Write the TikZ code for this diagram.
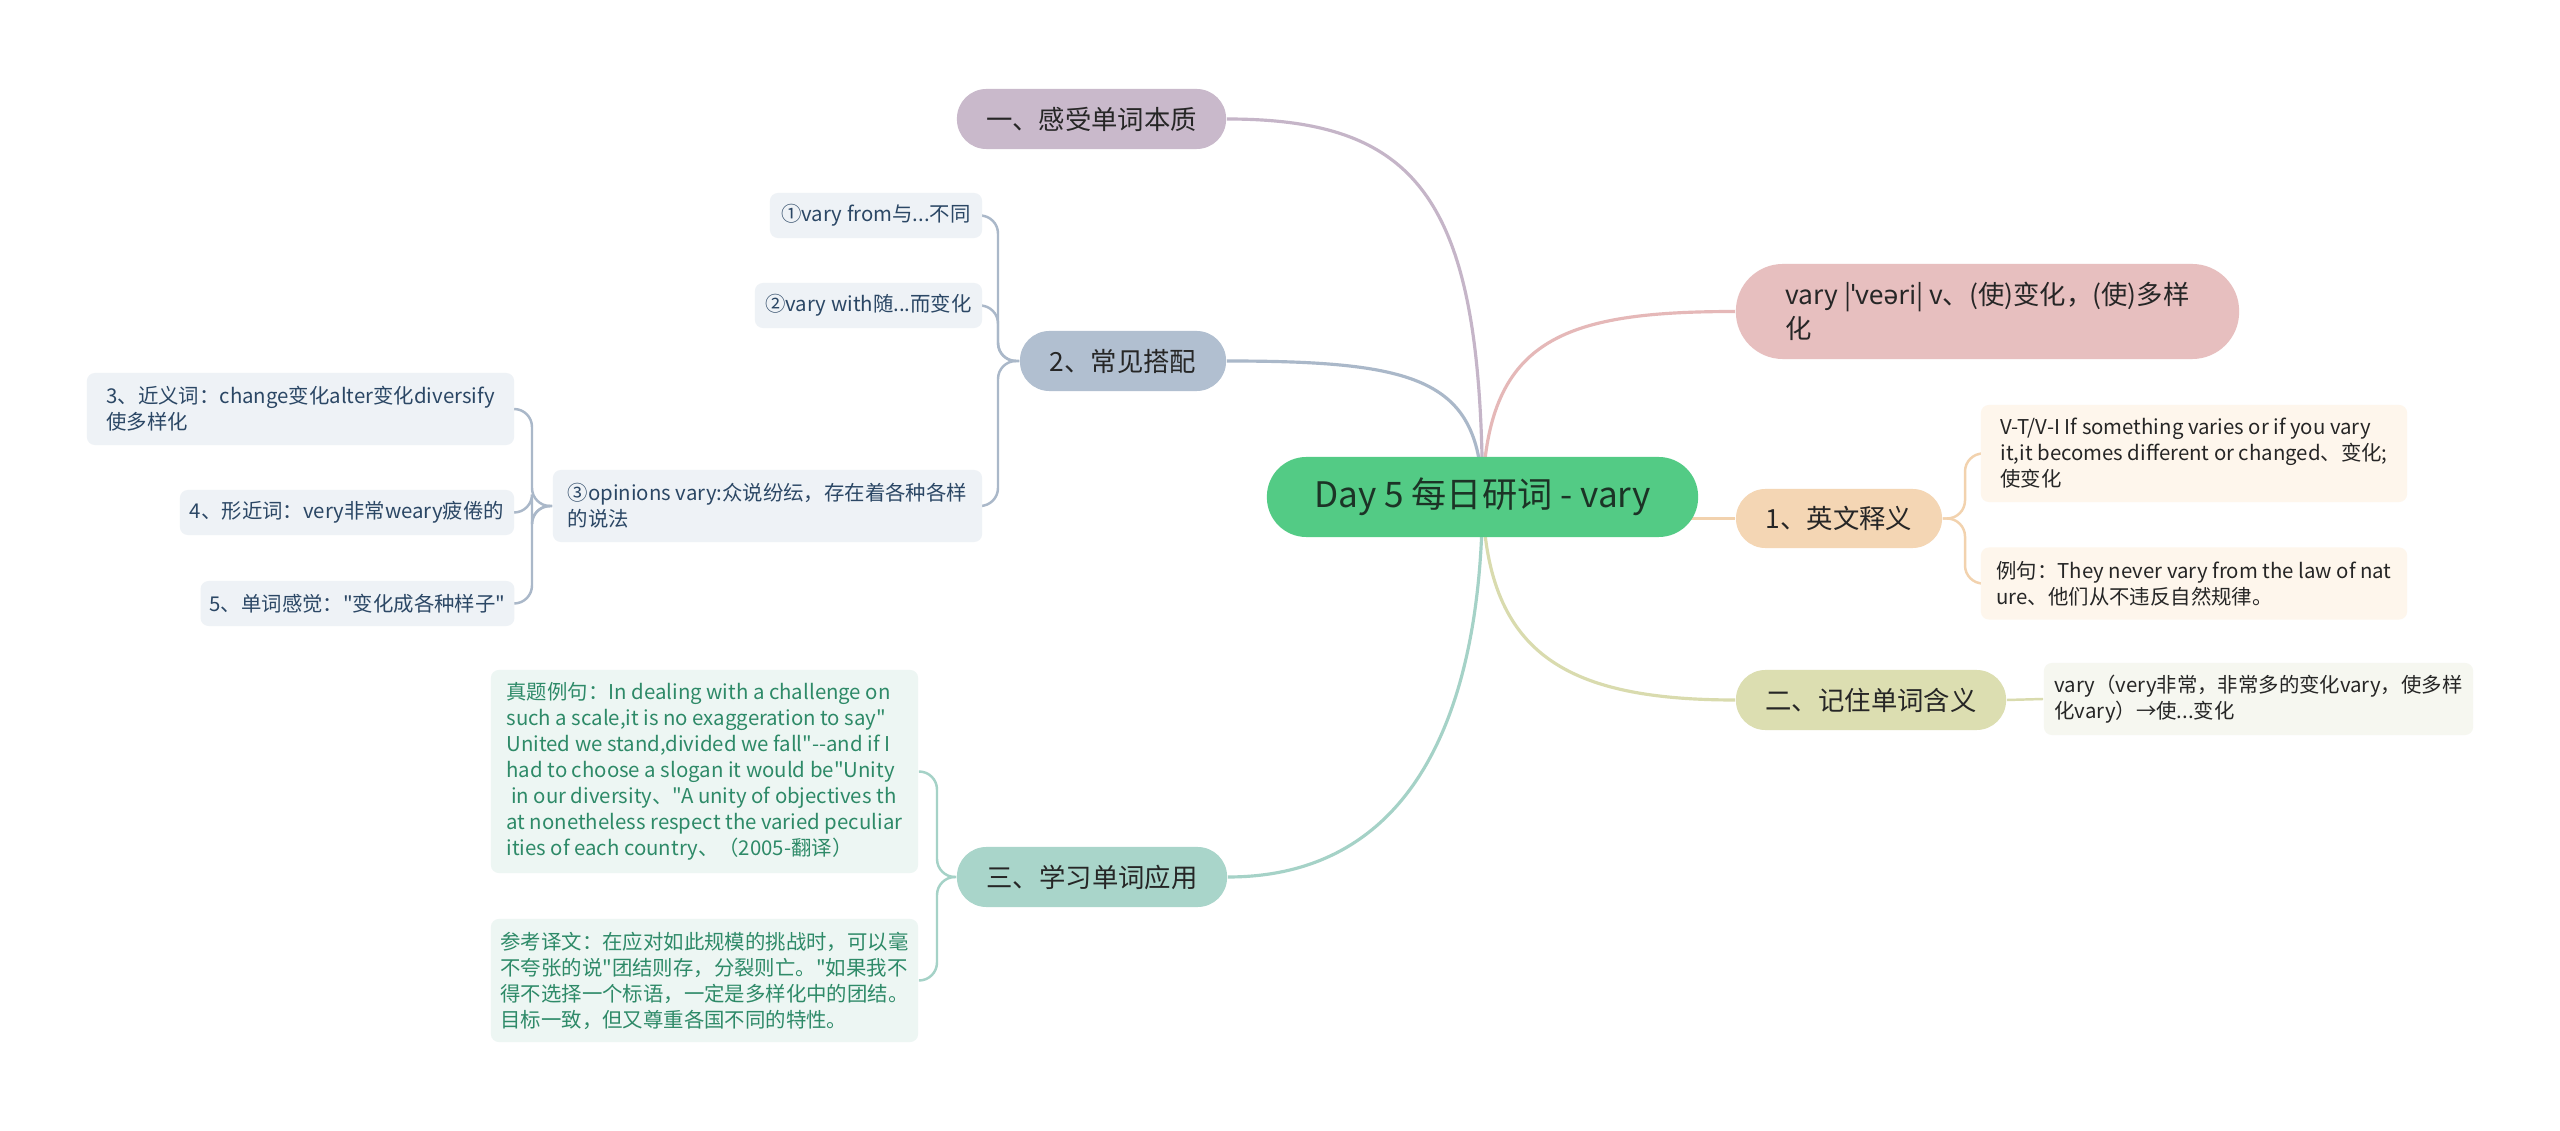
\documentclass[tikz,border=0pt]{standalone}
\usepackage{fontspec}
\setmainfont{Noto Sans CJK SC}[Ligatures=TeXOff]
\newfontfamily\ipafont{Noto Sans}[Ligatures=TeXOff]
\usetikzlibrary{backgrounds}
\definecolor{rootfill}{HTML}{53CB85}
\definecolor{roottxt}{HTML}{1C3326}
\definecolor{txtdark}{HTML}{262626}
\definecolor{onefill}{HTML}{C9B9CB}
\definecolor{twofill}{HTML}{B1BFD0}
\definecolor{threefill}{HTML}{A9D5CA}
\definecolor{pinkfill}{HTML}{E7BFBF}
\definecolor{engfill}{HTML}{F4D6B4}
\definecolor{memfill}{HTML}{DCDEB1}
\definecolor{cOne}{HTML}{C5B5C8}
\definecolor{cTwo}{HTML}{AAB8C9}
\definecolor{cThree}{HTML}{A5D2C7}
\definecolor{cPink}{HTML}{E5B8B8}
\definecolor{cEng}{HTML}{F2D2AE}
\definecolor{cMem}{HTML}{D9DBAE}
\definecolor{blueleaf}{HTML}{EEF2F6}
\definecolor{bluetxt}{HTML}{2B4765}
\definecolor{greenleaf}{HTML}{EDF6F3}
\definecolor{greentxt}{HTML}{2E8A68}
\definecolor{engleaf}{HTML}{FEF6EC}
\definecolor{memleaf}{HTML}{F6F7F0}
\begin{document}
\begin{tikzpicture}[x=0.01cm,y=-0.01cm,
  pill/.style={rectangle, inner sep=0pt, text=txtdark},
  branch/.style={pill, rounded corners=0.295cm, minimum height=0.6cm, font=\fontsize{7.5pt}{9.75pt}\selectfont},
  leaf/.style={rectangle, rounded corners=0.08cm, inner xsep=0.09cm, inner ysep=0pt, align=left, font=\fontsize{5.8pt}{7.4pt}\selectfont},
  bleaf/.style={leaf, fill=blueleaf, text=bluetxt},
  gleaf/.style={leaf, fill=greenleaf, text=greentxt},
  eleaf/.style={leaf, fill=engleaf, text=txtdark},
  mleaf/.style={leaf, fill=memleaf, text=txtdark},
  conn/.style={line width=0.9pt},
  sub/.style={line width=0.7pt, rounded corners=0.18cm},
]
\useasboundingbox (0,0) rectangle (2560,1131);

% central
\node[pill, fill=rootfill, text=roottxt, rounded corners=0.395cm, minimum width=4.31cm, minimum height=0.8cm, font=\fontsize{10pt}{13pt}\selectfont] (root) at (1482.5,497) {Day 5 每日研词 - vary};

% main branches
\node[branch, fill=onefill, minimum width=2.69cm] (one) at (1091.5,119) {一、感受单词本质};
\node[branch, fill=twofill, minimum width=2.06cm] (two) at (1123,361) {2、常见搭配};
\node[branch, fill=threefill, minimum width=2.70cm] (three) at (1092,877) {三、学习单词应用};
\node[branch, fill=engfill, minimum width=2.06cm, minimum height=0.59cm] (eng) at (1839,518.5) {1、英文释义};
\node[branch, fill=memfill, minimum width=2.70cm] (mem) at (1871,700) {二、记住单词含义};
\node[branch, fill=pinkfill, rounded corners=0.47cm, minimum height=0.95cm, minimum width=5.03cm, align=left] (pink) at (1987.5,311.5) {vary |{\ipafont ˈveəri}| v、(使)变化，(使)多样\\化};

% leaves of 2
\node[bleaf, minimum width=2.12cm, minimum height=0.45cm] (c1) at (876,215.5) {①vary from与...不同};
\node[bleaf, minimum width=2.27cm, minimum height=0.45cm] (c2) at (868.5,305.5) {②vary with随...而变化};
\node[bleaf, minimum width=4.29cm, minimum height=0.72cm] (c3) at (767.5,506) {③opinions vary:众说纷纭，存在着各种各样\\的说法};
\node[bleaf, minimum width=4.27cm, minimum height=0.72cm] (s3) at (300.5,409) {3、近义词：change变化alter变化diversify\\使多样化};
\node[bleaf, minimum width=3.34cm, minimum height=0.45cm] (s4) at (347,512.5) {4、形近词：very非常weary疲倦的};
\node[bleaf, minimum width=3.13cm, minimum height=0.45cm] (s5) at (357.5,603.5) {5、单词感觉："变化成各种样子"};

% leaves of 1
\node[eleaf, minimum width=4.26cm, minimum height=0.97cm] (e1) at (2194,453.5) {V-T/V-I If something varies or if you vary\\it,it becomes different or changed、变化;\\使变化};
\node[eleaf, minimum width=4.26cm, minimum height=0.72cm] (e2) at (2194,583.5) {例句：They never vary from the law of nat\\ure、他们从不违反自然规律。};

% leaf of 二
\node[mleaf, minimum width=4.29cm, minimum height=0.72cm] (m1) at (2258.5,699) {vary（very非常，非常多的变化vary，使多样\\化vary）→使...变化};

% leaves of 三
\node[gleaf, minimum width=4.27cm, minimum height=2.03cm] (t1) at (704.5,771.5) {真题例句：In dealing with a challenge on\\such a scale,it is no exaggeration to say"\\United we stand,divided we fall"--and if I\\had to choose a slogan it would be"Unity\\\ in our diversity、"A unity of objectives th\\at nonetheless respect the varied peculiar\\ities of each country、（2005-翻译）};
\node[gleaf, minimum width=4.27cm, minimum height=1.23cm] (t2) at (704.5,980.5) {参考译文：在应对如此规模的挑战时，可以毫\\不夸张的说"团结则存，分裂则亡。"如果我不\\得不选择一个标语，一定是多样化中的团结。\\目标一致，但又尊重各国不同的特性。};

\coordinate (sp2) at (998,361);
\coordinate (spc3) at (532,506);
\coordinate (sp3) at (937,877);
\coordinate (spe) at (1965,518.5);

\begin{scope}[on background layer]
\fill[white] (0,0) rectangle (2560,1131);
\draw[conn, cOne] (root.center) .. controls (1482,200) and (1420,119) .. (one.east);
\draw[conn, cTwo] (root.center) .. controls (1480,380) and (1420,361) .. (two.east);
\draw[conn, cThree] (root.center) .. controls (1482,700) and (1420,877) .. (three.east);
\draw[conn, cPink] (root.center) .. controls (1486,340) and (1560,311.5) .. (pink.west);
\draw[conn, cMem] (root.center) .. controls (1486,650) and (1560,700) .. (mem.west);
\draw[conn, cEng] (root.center |- eng.west) -- (eng.west);

\draw[sub, cTwo] (two.west) -- (sp2) |- (c1.east);
\draw[sub, cTwo] (two.west) -- (sp2) |- (c2.east);
\draw[sub, cTwo] (two.west) -- (sp2) |- (c3.east);

\draw[sub, cTwo] (c3.west) -- (spc3) |- (s3.east);
\draw[sub, cTwo] (c3.west) -- (spc3) |- (s4.east);
\draw[sub, cTwo] (c3.west) -- (spc3) |- (s5.east);

\draw[sub, cThree] (three.west) -- (sp3) |- (t1.east);
\draw[sub, cThree] (three.west) -- (sp3) |- (t2.east);

\draw[sub, cEng] (eng.east) -- (spe) |- (e1.west);
\draw[sub, cEng] (eng.east) -- (spe) |- (e2.west);

\draw[sub, cMem] (mem.east) -- (m1.west);
\end{scope}
\end{tikzpicture}
\end{document}
